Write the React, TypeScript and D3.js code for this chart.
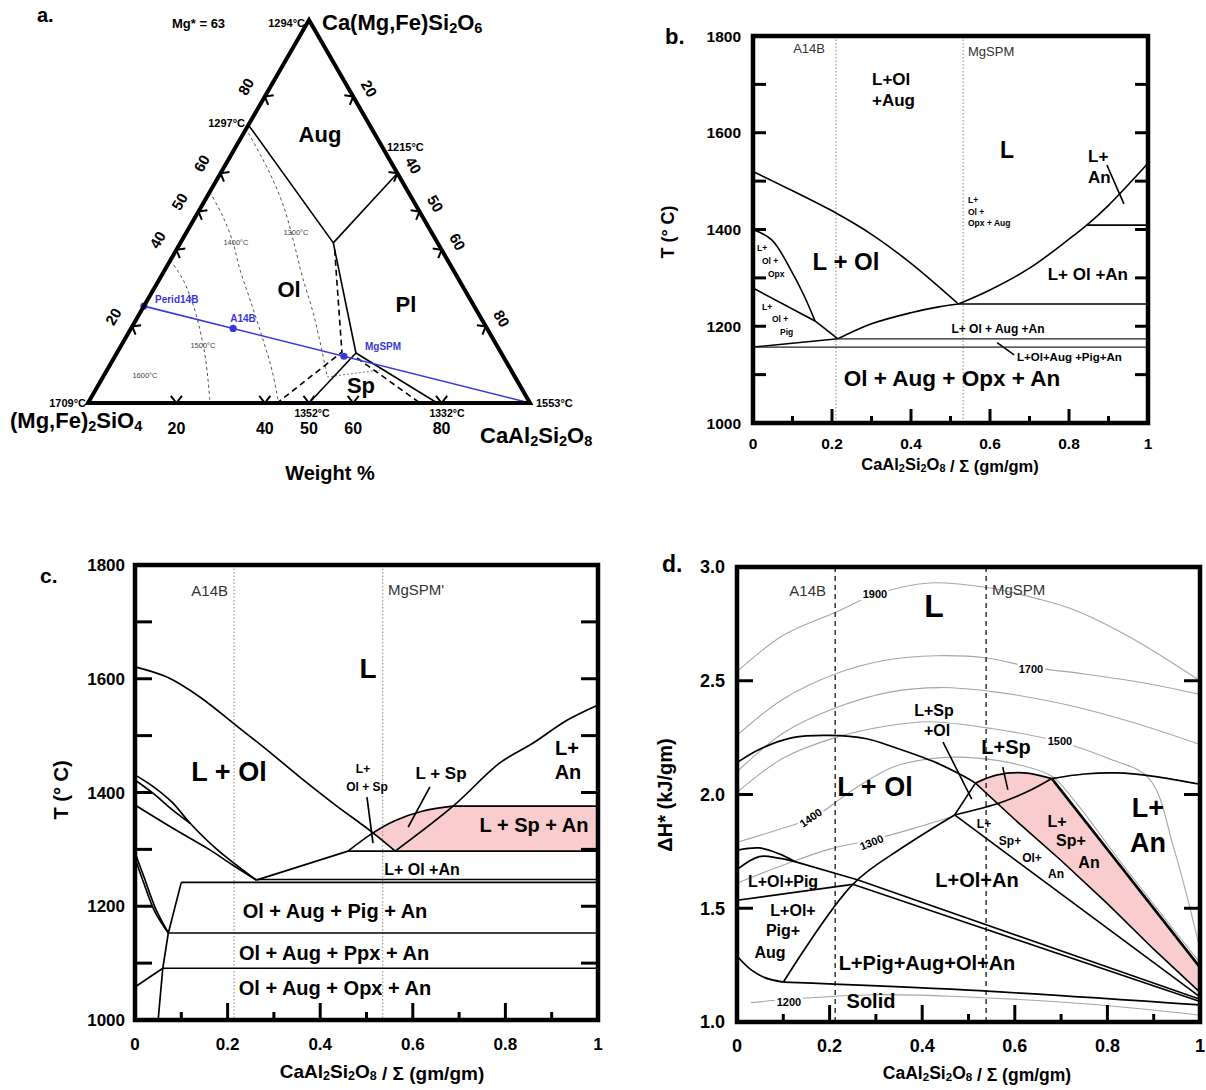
import React from "react";
import * as d3 from "d3";

type Pt = [number, number];
const FONT = "'Liberation Sans', Arial, Helvetica, sans-serif";
const PINK = "#f9cdcd";
const BLUE = "#3838d8";
const GRAYTXT = "#333";

/* ---------------- Panel a : ternary, points as [An fraction, Di fraction] ---------------- */
const aTickFractions = [0.2, 0.4, 0.5, 0.6, 0.8];
const aTickLabels = ["20", "40", "50", "60", "80"];
const aAugOl: Pt[] = [[0, 0.726], [0.346, 0.418]];
const aAugPl: Pt[] = [[0.4, 0.6], [0.346, 0.418]];
const aOlPl: Pt[] = [[0.346, 0.418], [0.541, 0.1305]];
const aSpOl: Pt[] = [[0.541, 0.1305], [0.5, 0]];
const aSpPl: Pt[] = [[0.541, 0.1305], [0.79, 0]];
const aDashA: Pt[] = [[0.358, 0.4], [0.508, 0.133], [0.428, 0]];
const aDashB: Pt[] = [[0.55, 0.1175], [0.751, 0]];
const aIso1300: Pt[] = [[0.0104, 0.705], [0.104, 0.608], [0.183, 0.517], [0.2515, 0.4256], [0.317, 0.334], [0.392, 0.235], [0.46, 0.138], [0.507, 0.068]];
const aIso1400: Pt[] = [[0, 0.551], [0.058, 0.491], [0.1135, 0.4256], [0.1706, 0.347], [0.2324, 0.269], [0.314, 0.1645], [0.373, 0.0862], [0.426, 0.0078]];
const aIso1500: Pt[] = [[0, 0.373], [0.0548, 0.321], [0.11, 0.256], [0.158, 0.1906], [0.202, 0.1253], [0.2416, 0.06], [0.2747, 0.0026]];
const aIsoSp: Pt[] = [[0.507, 0.068], [0.618, 0.086]];
const aBulkLine: Pt[] = [[0, 0.253], [1, 0]];
const aSampleNames = ["Perid14B", "A14B", "MgSPM"];
const aSamplePts: Pt[] = [[0, 0.253], [0.231, 0.1946], [0.518, 0.122]];

/* ---------------- Panel b ---------------- */
const xTickVals = [0, 0.2, 0.4, 0.6, 0.8, 1];
const xMinorVals = [0.1, 0.3, 0.5, 0.7, 0.9];
const tTickMarks = [1100, 1200, 1300, 1400, 1500, 1600, 1700];
const tTickLabels = [1000, 1200, 1400, 1600, 1800];
const bRefLines = [0.21, 0.532];
const bLiqOl: Pt[] = [[0, 1520], [0.1, 1480], [0.21, 1434], [0.3, 1390], [0.4, 1330], [0.52, 1246]];
const bLiqAn: Pt[] = [[0.52, 1246], [0.6, 1275], [0.7, 1320], [0.8, 1380], [0.845, 1409], [0.9, 1450], [1, 1537]];
const bOpx: Pt[] = [[0, 1400], [0.048, 1378], [0.1, 1310], [0.13, 1262], [0.157, 1211]];
const bSub: Pt[] = [[0.215, 1174], [0.3, 1205], [0.4, 1228], [0.47, 1240], [0.52, 1246]];
const bPig: Pt[] = [[0, 1279], [0.157, 1211], [0.215, 1174]];
const bH1246: Pt[] = [[0.52, 1246], [1, 1246]];
const bH1409: Pt[] = [[0.845, 1409], [1, 1409]];
const bH1174: Pt[] = [[0.215, 1174], [1, 1174]];
const bH1157: Pt[] = [[0, 1157], [1, 1157]];
const bLow: Pt[] = [[0, 1157], [0.215, 1174]];
const bLeadAn: Pt[] = [[0.896, 1533], [0.939, 1453]];
const bLeadPig: Pt[] = [[0.618, 1166], [0.661, 1141]];

/* ---------------- Panel c ---------------- */
const cRefLines = [0.214, 0.535];
const cLiqOl: Pt[] = [[0, 1621], [0.069, 1603], [0.14, 1568], [0.212, 1522], [0.285, 1475], [0.356, 1427], [0.428, 1381], [0.514, 1329], [0.562, 1297]];
const cLiqAn: Pt[] = [[0.562, 1297], [0.687, 1376], [0.788, 1452], [0.86, 1487], [0.933, 1527], [1, 1554]];
const cSpTop: Pt[] = [[0.46, 1297], [0.514, 1329], [0.56, 1350], [0.62, 1367], [0.687, 1376]];
const cRise: Pt[] = [[0.262, 1246], [0.46, 1297]];
const cH1376: Pt[] = [[0.687, 1376], [1, 1376]];
const cH1297: Pt[] = [[0.46, 1297], [1, 1297]];
const cH1247: Pt[] = [[0.262, 1247], [1, 1247]];
const cH1241: Pt[] = [[0.1, 1242], [1, 1242]];
const cH1153: Pt[] = [[0.072, 1153], [1, 1153]];
const cH1091: Pt[] = [[0.06, 1091], [1, 1091]];
const cOlA: Pt[] = [[0, 1431], [0.04, 1410], [0.08, 1383], [0.119, 1346], [0.177, 1300], [0.262, 1246]];
const cLensBot: Pt[] = [[0, 1422], [0.04, 1398], [0.08, 1370], [0.119, 1346]];
const cOlB: Pt[] = [[0, 1378], [0.08, 1338], [0.16, 1300], [0.21, 1273], [0.262, 1246]];
const cPigA: Pt[] = [[0, 1294], [0.02, 1250], [0.045, 1195], [0.072, 1153]];
const cPigB: Pt[] = [[0, 1285], [0.018, 1243], [0.042, 1192], [0.072, 1153]];
const cAugA: Pt[] = [[0.1, 1242], [0.072, 1153], [0.06, 1091], [0.05, 1000]];
const cOpxA: Pt[] = [[0, 1058], [0.06, 1091]];
const cLeadOlSp: Pt[] = [[0.501, 1392], [0.514, 1311]];
const cLeadSp: Pt[] = [[0.637, 1410], [0.59, 1339]];
const cPink: Pt[] = [[0.514, 1329], [0.56, 1350], [0.62, 1367], [0.687, 1376], [1, 1376], [1, 1297], [0.562, 1297]];

/* ---------------- Panel d ---------------- */
const hTickMarks = [1.5, 2.0, 2.5];
const hTickLabels = [1.0, 1.5, 2.0, 2.5, 3.0];
const dRefLines = [0.212, 0.538];
const dIso1900: Pt[] = [[0, 2.54], [0.1, 2.7], [0.212, 2.8], [0.3, 2.88], [0.415, 2.93], [0.54, 2.91], [0.65, 2.86], [0.73, 2.81], [0.85, 2.69], [1, 2.5]];
const dIso1700: Pt[] = [[0, 2.26], [0.1, 2.42], [0.212, 2.53], [0.32, 2.59], [0.43, 2.61], [0.54, 2.6], [0.635, 2.56], [0.75, 2.53], [0.88, 2.49], [1, 2.44]];
const dIso1600: Pt[] = [[0, 2.1], [0.1, 2.27], [0.212, 2.38], [0.33, 2.45], [0.44, 2.47], [0.56, 2.45], [0.7, 2.4], [0.85, 2.32], [1, 2.22]];
const dIso1500: Pt[] = [[0, 2.01], [0.1, 2.16], [0.212, 2.25], [0.32, 2.3], [0.415, 2.32], [0.55, 2.29], [0.7, 2.23], [0.8, 2.16], [0.89, 2.07], [0.944, 1.76], [1, 1.32]];
const dIso1400: Pt[] = [[0, 1.79], [0.08, 1.84], [0.165, 1.9], [0.25, 2.02], [0.336, 2.12], [0.43, 2.16], [0.52, 2.16], [0.61, 2.13], [0.68, 2.08], [0.73, 1.97], [0.83, 1.7], [1, 1.26]];
const dIso1300: Pt[] = [[0, 1.61], [0.1, 1.69], [0.2, 1.76], [0.29, 1.8], [0.38, 1.85], [0.46, 1.9]];
const dIso1200: Pt[] = [[0.03, 1.085], [0.11, 1.1], [0.3, 1.12], [0.5, 1.11], [0.75, 1.08], [1, 1.03]];
const dDome: Pt[] = [[0, 2.14], [0.05, 2.2], [0.12, 2.25], [0.2, 2.26], [0.28, 2.245], [0.336, 2.21], [0.43, 2.14], [0.49, 2.08], [0.515, 2.05]];
const dLiqLine: Pt[] = [[0.515, 2.05], [0.6, 1.89], [0.7, 1.71], [0.8, 1.52], [0.9, 1.32], [1, 1.13]];
const dSpTop: Pt[] = [[0.515, 2.05], [0.56, 2.085], [0.62, 2.095], [0.68, 2.07]];
const dAnRight: Pt[] = [[0.68, 2.07], [1, 1.24]];
const dAnCurve: Pt[] = [[0.47, 1.91], [0.57, 1.965], [0.63, 2.015], [0.68, 2.07]];
const dAnDome: Pt[] = [[0.68, 2.07], [0.75, 2.09], [0.82, 2.095], [0.9, 2.08], [1, 2.045]];
const dLineA: Pt[] = [[0.47, 1.91], [1, 1.11]];
const dOlSp: Pt[] = [[0.47, 1.91], [0.515, 2.05]];
const dRise: Pt[] = [[0.1, 1.175], [0.25, 1.605], [0.36, 1.77], [0.47, 1.91]];
const dLeftLine: Pt[] = [[0, 1.535], [0.25, 1.605]];
const dDoubleUp: Pt[] = [[0.125, 1.705], [0.26, 1.625], [1, 1.1]];
const dDoubleLo: Pt[] = [[0.25, 1.605], [1, 1.09]];
const dLensUp: Pt[] = [[0, 1.755], [0.048, 1.765], [0.09, 1.74], [0.125, 1.705]];
const dLensLo: Pt[] = [[0, 1.67], [0.048, 1.727], [0.09, 1.72], [0.125, 1.705]];
const dBottomCurve: Pt[] = [[0, 1.29], [0.03, 1.23], [0.06, 1.195], [0.1, 1.175]];
const dSolidLine: Pt[] = [[0.1, 1.175], [0.5, 1.14], [1, 1.075]];
const dLeadOl: Pt[] = [[0.445, 2.23], [0.507, 1.98]];
const dLeadSp: Pt[] = [[0.574, 2.12], [0.585, 2.02]];
const dPink: Pt[] = [[0.515, 2.05], [0.56, 2.085], [0.62, 2.095], [0.68, 2.07], [1, 1.24], [1, 1.13], [0.9, 1.32], [0.8, 1.52], [0.7, 1.71], [0.6, 1.89]];

/* ---------------- scales ---------------- */
const tx = d3.scaleLinear().domain([0, 1]).range([88, 530]);
const ty = d3.scaleLinear().domain([0, 1]).range([403, 20]);
const tern = (p: Pt): Pt => [tx(p[0] + p[1] / 2), ty(p[1])];

const bx = d3.scaleLinear().domain([0, 1]).range([753, 1148]);
const by = d3.scaleLinear().domain([1000, 1800]).range([423, 36]);
const cx = d3.scaleLinear().domain([0, 1]).range([135, 598]);
const cy = d3.scaleLinear().domain([1000, 1800]).range([1020, 565]);
const dx = d3.scaleLinear().domain([0, 1]).range([737, 1200]);
const dy = d3.scaleLinear().domain([1, 3]).range([1022, 567]);

const smooth = (xs: any, ys: any) =>
  d3.line<Pt>().x((d) => xs(d[0])).y((d) => ys(d[1])).curve(d3.curveCatmullRom.alpha(0.5));
const straight = (xs: any, ys: any) => d3.line<Pt>().x((d) => xs(d[0])).y((d) => ys(d[1]));
const ternLine = d3.line<Pt>().x((d) => tern(d)[0]).y((d) => tern(d)[1]);
const ternSmooth = d3
  .line<Pt>()
  .x((d) => tern(d)[0])
  .y((d) => tern(d)[1])
  .curve(d3.curveCatmullRom.alpha(0.5));

/* ---------------- helpers ---------------- */
function T({ x, y, s, c = "#000", w = 700, a = "start", r, halo, children }: any) {
  return (
    <text
      x={x}
      y={y}
      fontSize={s}
      fill={c}
      fontWeight={w}
      textAnchor={a}
      transform={r ? `rotate(${r} ${x} ${y})` : undefined}
      stroke={halo ? "#fff" : undefined}
      strokeWidth={halo ? 5 : undefined}
      paintOrder={halo ? "stroke" : undefined}
    >
      {children}
    </text>
  );
}

function chem(str: string, fs: number) {
  const parts = str.match(/(\d+|[^\d]+)/g) || [];
  let sub = false;
  return parts.map((p, i) => {
    const isD = /^\d+$/.test(p);
    const shift = isD && !sub ? fs * 0.12 : !isD && sub ? -fs * 0.12 : 0;
    sub = isD;
    return (
      <tspan key={i} dy={shift} fontSize={isD ? fs * 0.66 : fs}>
        {p}
      </tspan>
    );
  });
}

function Frame({ xs, ys, yMarks, yLabels, yFmt, yLen, majLen, minLen, fs, xLabOff, yLabOff }: any) {
  const [x0, x1] = xs.range();
  const [yb, yt] = ys.range();
  return (
    <g>
      {yMarks.map((t: number) => (
        <g key={"y" + t}>
          <line x1={x0} x2={x0 + yLen} y1={ys(t)} y2={ys(t)} stroke="#000" strokeWidth={3} />
          <line x1={x1} x2={x1 - yLen} y1={ys(t)} y2={ys(t)} stroke="#000" strokeWidth={3} />
        </g>
      ))}
      {xTickVals.slice(1, -1).map((t) => (
        <line key={"M" + t} x1={xs(t)} x2={xs(t)} y1={yb} y2={yb - majLen} stroke="#000" strokeWidth={3} />
      ))}
      {xMinorVals.map((t) => (
        <line key={"m" + t} x1={xs(t)} x2={xs(t)} y1={yb} y2={yb - minLen} stroke="#000" strokeWidth={3} />
      ))}
      <rect x={x0} y={yt} width={x1 - x0} height={yb - yt} fill="none" stroke="#000" strokeWidth={4.5} />
      {yLabels.map((t: number) => (
        <text key={"yl" + t} x={x0 - yLabOff} y={ys(t)} dy="0.36em" textAnchor="end" fontSize={fs} fontWeight={700}>
          {yFmt(t)}
        </text>
      ))}
      {xTickVals.map((t) => (
        <text key={"xl" + t} x={xs(t)} y={yb + xLabOff} textAnchor="middle" fontSize={fs} fontWeight={700}>
          {String(t)}
        </text>
      ))}
    </g>
  );
}

function Paths({ gen, list, w = 1.6, c = "#000", dash }: any) {
  return (
    <g>
      {list.map((pts: Pt[], i: number) => (
        <path key={i} d={gen(pts) || ""} fill="none" stroke={c} strokeWidth={w} strokeDasharray={dash} />
      ))}
    </g>
  );
}

/* ---------------- Panel a ---------------- */
function chevron(p: Pt, n: Pt, key: string) {
  const L = 9;
  const ang = (38 * Math.PI) / 180;
  const rot = (v: Pt, a: number): Pt => [v[0] * Math.cos(a) - v[1] * Math.sin(a), v[0] * Math.sin(a) + v[1] * Math.cos(a)];
  const a1 = rot(n, ang);
  const a2 = rot(n, -ang);
  const d = `M${p[0] + a1[0] * L},${p[1] + a1[1] * L}L${p[0]},${p[1]}L${p[0] + a2[0] * L},${p[1] + a2[1] * L}`;
  return <path key={key} d={d} fill="none" stroke="#000" strokeWidth={2} />;
}

function PanelA() {
  const L = tern([0, 0]);
  const R = tern([1, 0]);
  const Tp = tern([0, 1]);
  return (
    <g>
      <T x={37} y={22} s={20}>a.</T>
      <Paths gen={ternSmooth} list={[aIso1300, aIso1400, aIso1500]} w={1} c="#555" dash="3 3" />
      <Paths gen={ternLine} list={[aIsoSp]} w={1} c="#777" dash="2 2" />
      <Paths gen={ternLine} list={[aAugOl, aAugPl, aOlPl, aSpOl, aSpPl]} w={1.6} />
      <Paths gen={ternLine} list={[aDashA, aDashB]} w={1.6} dash="6 4" />
      <Paths gen={ternLine} list={[aBulkLine]} w={1.6} c={BLUE} />
      {aSamplePts.map((p, i) => (
        <circle key={aSampleNames[i]} cx={tern(p)[0]} cy={tern(p)[1]} r={3.6} fill={BLUE} />
      ))}
      <T x={155} y={303} s={10} c={BLUE}>Perid14B</T>
      <T x={243} y={322} s={10} c={BLUE} a="middle">A14B</T>
      <T x={365} y={350} s={10} c={BLUE}>MgSPM</T>
      <path d={`M${L[0]},${L[1]}L${R[0]},${R[1]}L${Tp[0]},${Tp[1]}Z`} fill="none" stroke="#000" strokeWidth={4} strokeLinejoin="miter" />
      {aTickFractions.map((f, i) => {
        const pb = tern([f, 0]);
        const pl = tern([0, f]);
        const pr = tern([f, 1 - f]);
        return (
          <g key={"t" + f}>
            {chevron(pb, [0, -1], "b" + f)}
            {chevron(pl, [0.866, 0.5], "l" + f)}
            {chevron(pr, [-0.866, 0.5], "r" + f)}
            <T x={pb[0]} y={434} s={16} a="middle">{aTickLabels[i]}</T>
            <text x={pl[0] - 19} y={pl[1] - 10} fontSize={15} fontWeight={700} textAnchor="middle" dominantBaseline="central" transform={`rotate(-60 ${pl[0] - 19} ${pl[1] - 10})`}>
              {aTickLabels[i]}
            </text>
            <text x={pr[0] + 16} y={pr[1] - 8} fontSize={15} fontWeight={700} textAnchor="middle" dominantBaseline="central" transform={`rotate(60 ${pr[0] + 16} ${pr[1] - 8})`}>
              {aTickLabels[i]}
            </text>
          </g>
        );
      })}
      <T x={320} y={142} s={22} a="middle">Aug</T>
      <T x={289} y={297} s={22} a="middle">Ol</T>
      <T x={406} y={312} s={22} a="middle">Pl</T>
      <T x={361} y={393} s={22} a="middle">Sp</T>
      <T x={145} y={378} s={7.5} w={400} c="#444" a="middle">1600°C</T>
      <T x={203} y={348} s={7.5} w={400} c="#444" a="middle">1500°C</T>
      <T x={236} y={245} s={7.5} w={400} c="#444" a="middle">1400°C</T>
      <T x={296} y={235} s={7.5} w={400} c="#444" a="middle">1300°C</T>
      <T x={172} y={28} s={13}>Mg* = 63</T>
      <T x={305} y={27} s={11} a="end">1294°C</T>
      <T x={245} y={127} s={11} a="end">1297°C</T>
      <T x={387} y={151} s={11}>1215°C</T>
      <T x={86} y={407} s={11} a="end">1709°C</T>
      <T x={536} y={407} s={11}>1553°C</T>
      <T x={312} y={417} s={10.5} a="middle">1352°C</T>
      <T x={447} y={417} s={10.5} a="middle">1332°C</T>
      <text x={322} y={30} fontSize={22} fontWeight={700}>{chem("Ca(Mg,Fe)Si2O6", 22)}</text>
      <text x={10} y={428} fontSize={22} fontWeight={700}>{chem("(Mg,Fe)2SiO4", 22)}</text>
      <text x={480} y={443} fontSize={22} fontWeight={700}>{chem("CaAl2Si2O8", 22)}</text>
      <T x={330} y={480} s={20} a="middle">Weight %</T>
    </g>
  );
}

/* ---------------- Panel b ---------------- */
function PanelB() {
  const sm = smooth(bx, by);
  const st = straight(bx, by);
  return (
    <g>
      {bRefLines.map((v) => (
        <line key={v} x1={bx(v)} x2={bx(v)} y1={by(1800)} y2={by(1000)} stroke="#888" strokeWidth={1} strokeDasharray="1.5 2" />
      ))}
      <Paths gen={sm} list={[bLiqOl, bLiqAn, bOpx, bSub]} w={1.6} />
      <Paths gen={st} list={[bPig, bH1246, bH1409, bLow, bLeadAn, bLeadPig]} w={1.6} />
      <Paths gen={st} list={[bH1174, bH1157]} w={1.3} c="#222" />
      <Frame xs={bx} ys={by} yMarks={tTickMarks} yLabels={tTickLabels} yFmt={String} yLen={13} majLen={14} minLen={7} fs={15.5} xLabOff={26} yLabOff={12} />
      <T x={665} y={44} s={22}>b.</T>
      <T x={825} y={53} s={13} w={400} c={GRAYTXT} a="end">A14B</T>
      <T x={968} y={56} s={13} w={400} c={GRAYTXT}>MgSPM</T>
      <T x={872} y={85} s={17}>L+Ol</T>
      <T x={872} y={106} s={17}>+Aug</T>
      <T x={1000} y={158} s={23}>L</T>
      <T x={1088} y={162} s={17}>L+</T>
      <T x={1088} y={183} s={17}>An</T>
      <T x={968} y={203} s={8.5}>L+</T>
      <T x={968} y={215} s={8.5}>Ol +</T>
      <T x={968} y={226} s={8.5}>Opx + Aug</T>
      <T x={846} y={270} s={24} a="middle">L + Ol</T>
      <T x={757} y={251} s={8.5}>L+</T>
      <T x={762} y={264} s={8.5}>Ol +</T>
      <T x={768} y={277} s={8.5}>Opx</T>
      <T x={762} y={310} s={8.5}>L+</T>
      <T x={772} y={322} s={8.5}>Ol +</T>
      <T x={780} y={335} s={8.5}>Pig</T>
      <T x={1128} y={280} s={17} a="end">L+ Ol +An</T>
      <T x={998} y={333} s={12} a="middle">L+ Ol + Aug +An</T>
      <T x={1017} y={361} s={11.5}>L+Ol+Aug +Pig+An</T>
      <T x={952} y={386} s={22.5} a="middle">Ol + Aug + Opx + An</T>
      <T x={674} y={232} s={18} a="middle" r={-90}>T (° C)</T>
      <text x={950} y={470} fontSize={16.5} fontWeight={700} textAnchor="middle">
        {chem("CaAl2Si2O8", 16.5)}
        <tspan> / Σ (gm/gm)</tspan>
      </text>
    </g>
  );
}

/* ---------------- Panel c ---------------- */
function PanelC() {
  const sm = smooth(cx, cy);
  const st = straight(cx, cy);
  return (
    <g>
      <path d={(st(cPink) || "") + "Z"} fill={PINK} stroke="none" />
      {cRefLines.map((v) => (
        <line key={v} x1={cx(v)} x2={cx(v)} y1={cy(1800)} y2={cy(1000)} stroke="#888" strokeWidth={1} strokeDasharray="1.5 2" />
      ))}
      <Paths gen={sm} list={[cLiqOl, cLiqAn, cSpTop, cOlA, cLensBot, cOlB, cPigA, cPigB]} w={1.7} />
      <Paths gen={st} list={[cRise, cH1376, cH1297, cH1247, cH1241, cH1153, cH1091, cAugA, cOpxA, cLeadOlSp, cLeadSp]} w={1.7} />
      <Frame xs={cx} ys={cy} yMarks={tTickMarks} yLabels={tTickLabels} yFmt={String} yLen={17} majLen={17} minLen={8} fs={17} xLabOff={30} yLabOff={10} />
      <T x={40} y={583} s={21}>c.</T>
      <T x={228} y={596} s={15} w={400} c={GRAYTXT} a="end">A14B</T>
      <T x={388} y={595} s={15} w={400} c={GRAYTXT}>MgSPM'</T>
      <T x={368} y={678} s={28} a="middle">L</T>
      <T x={229} y={781} s={27} a="middle">L + Ol</T>
      <T x={363} y={773} s={12} a="middle">L+</T>
      <T x={367} y={791} s={12} a="middle">Ol + Sp</T>
      <T x={441} y={779} s={17} a="middle">L + Sp</T>
      <T x={567} y={755} s={20} a="middle">L+</T>
      <T x={568} y={779} s={20} a="middle">An</T>
      <T x={534} y={832} s={20} a="middle">L + Sp + An</T>
      <T x={422} y={875} s={16} a="middle">L+ Ol +An</T>
      <T x={335} y={918} s={20} a="middle">Ol + Aug + Pig + An</T>
      <T x={334} y={960} s={20} a="middle">Ol + Aug + Ppx + An</T>
      <T x={335} y={995} s={20} a="middle">Ol + Aug + Opx + An</T>
      <T x={68} y={790} s={20} a="middle" r={-90}>T (° C)</T>
      <text x={382} y={1078} fontSize={19} fontWeight={700} textAnchor="middle">
        {chem("CaAl2Si2O8", 19)}
        <tspan> / Σ (gm/gm)</tspan>
      </text>
    </g>
  );
}

/* ---------------- Panel d ---------------- */
function PanelD() {
  const sm = smooth(dx, dy);
  const st = straight(dx, dy);
  const f1 = d3.format(".1f");
  return (
    <g>
      <path d={(st(dPink) || "") + "Z"} fill={PINK} stroke="none" />
      <Paths gen={sm} list={[dIso1900, dIso1700, dIso1600, dIso1500, dIso1400, dIso1300, dIso1200]} w={1.1} c="#a6a6a6" />
      {dRefLines.map((v) => (
        <line key={v} x1={dx(v)} x2={dx(v)} y1={dy(3)} y2={dy(1)} stroke="#000" strokeWidth={1.2} strokeDasharray="5 4" />
      ))}
      <Paths gen={sm} list={[dDome, dSpTop, dAnCurve, dAnDome, dLensUp, dLensLo, dBottomCurve, dRise, dSolidLine]} w={1.7} />
      <Paths gen={st} list={[dLiqLine, dLineA, dOlSp, dLeftLine, dDoubleUp, dDoubleLo, dLeadOl, dLeadSp]} w={1.6} />
      <Paths gen={st} list={[dAnRight]} w={2.6} />
      <Frame xs={dx} ys={dy} yMarks={hTickMarks} yLabels={hTickLabels} yFmt={f1} yLen={16} majLen={17} minLen={8} fs={18} xLabOff={30} yLabOff={12} />
      <T x={662} y={572} s={23}>d.</T>
      <T x={826} y={596} s={15} w={400} c={GRAYTXT} a="end">A14B</T>
      <T x={992} y={595} s={15} w={400} c={GRAYTXT}>MgSPM</T>
      <T x={875} y={598} s={11} a="middle" halo>1900</T>
      <T x={934} y={617} s={32} a="middle">L</T>
      <T x={1031} y={673} s={11} a="middle" halo>1700</T>
      <T x={934} y={716} s={16} a="middle">L+Sp</T>
      <T x={937} y={736} s={16} a="middle">+Ol</T>
      <T x={1060} y={745} s={11} a="middle" halo>1500</T>
      <T x={1006} y={754} s={20} a="middle">L+Sp</T>
      <T x={875} y={796} s={27} a="middle">L + Ol</T>
      <T x={813} y={821} s={11} a="middle" r={-35} halo>1400</T>
      <T x={873} y={846} s={11} a="middle" r={-22} halo>1300</T>
      <T x={1148} y={817} s={27} a="middle">L+</T>
      <T x={1148} y={852} s={27} a="middle">An</T>
      <T x={984} y={828} s={12} a="middle">L+</T>
      <T x={1010} y={845} s={12} a="middle">Sp+</T>
      <T x={1032} y={862} s={12} a="middle">Ol+</T>
      <T x={1056} y={878} s={12} a="middle">An</T>
      <T x={1057} y={827} s={16} a="middle">L+</T>
      <T x={1071} y={846} s={16} a="middle">Sp+</T>
      <T x={1089} y={868} s={16} a="middle">An</T>
      <T x={783} y={887} s={16} a="middle">L+Ol+Pig</T>
      <T x={793} y={916} s={16} a="middle">L+Ol+</T>
      <T x={783} y={936} s={16} a="middle">Pig+</T>
      <T x={770} y={958} s={16} a="middle">Aug</T>
      <T x={977} y={887} s={20} a="middle">L+Ol+An</T>
      <T x={927} y={970} s={20} a="middle">L+Pig+Aug+Ol+An</T>
      <T x={789} y={1006} s={11} a="middle" halo>1200</T>
      <T x={871} y={1008} s={20} a="middle">Solid</T>
      <T x={672} y={795} s={20} a="middle" r={-90}>ΔH* (kJ/gm)</T>
      <text x={977} y={1079} fontSize={17.5} fontWeight={700} textAnchor="middle">
        {chem("CaAl2Si2O8", 17.5)}
        <tspan> / Σ (gm/gm)</tspan>
      </text>
    </g>
  );
}

export default function App() {
  return (
    <svg width={1206} height={1090} style={{ position: "absolute", left: 0, top: 0, background: "#fff" }} fontFamily={FONT}>
      <rect width={1206} height={1090} fill="#fff" />
      <PanelA />
      <PanelB />
      <PanelC />
      <PanelD />
    </svg>
  );
}
